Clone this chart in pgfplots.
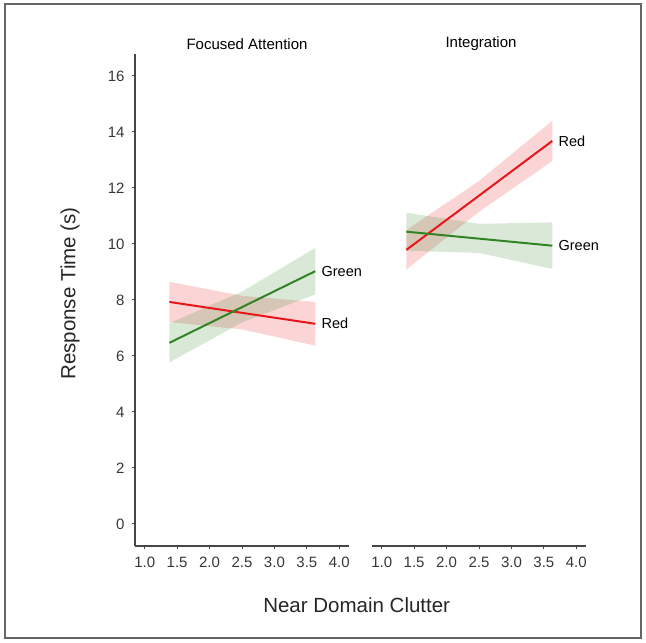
\documentclass[border=0pt]{standalone}
\usepackage{pgfplots}
\pgfplotsset{compat=1.18}
\usepackage{fontspec}
\setmainfont{Liberation Sans}
\definecolor{lred}{RGB}{232,22,26}
\definecolor{lgreen}{RGB}{48,132,36}
\definecolor{axgray}{RGB}{70,70,70}
\definecolor{tickgray}{RGB}{55,55,55}
\pgfplotsset{
  panel/.style={
    scale only axis, width=214pt, height=492.8pt,
    xmin=0.85, xmax=4.15, ymin=-0.8, ymax=16.8,
    xtick={1,1.5,...,4}, 
    xticklabels={1.0,1.5,2.0,2.5,3.0,3.5,4.0},
    axis x line*=bottom,
    axis line style={-, draw=axgray, line width=1.8pt},
    tick align=outside, major tick length=3pt,
    tick style={draw=axgray, line width=1pt},
    ticklabel style={font=\fontsize{15}{18}\selectfont, text=tickgray},
    xticklabel style={yshift=-4pt},
    yticklabel style={xshift=-4pt},
    /pgf/number format/assume math mode=true,
    clip=false,
  },
  band/.style={draw=none, fill opacity=0.18},
}
\begin{document}
\begin{tikzpicture}[x=1pt,y=1pt]
\useasboundingbox (0,0) rectangle (646,643);
\draw[draw=gray!80!black, line width=1.3pt] (5,5) rectangle (641,639);
% Left panel
\begin{axis}[panel, at={(135pt,96.6pt)}, anchor=south west,
  axis y line*=left, ytick={0,2,...,16}]
\addplot[band, fill=lred] coordinates {(1.38,8.65) (2.5,8.15) (3.63,7.93) (3.63,6.37) (2.5,6.95) (1.38,7.21)} -- cycle;
\addplot[band, fill=lgreen] coordinates {(1.38,7.17) (2.5,8.30) (3.63,9.86) (3.63,8.20) (2.5,7.20) (1.38,5.77)} -- cycle;
\addplot[lred, line width=2pt] coordinates {(1.38,7.93) (3.63,7.15)} node[pos=1, anchor=west, xshift=2pt, text=black, font=\fontsize{14.5}{17}\selectfont] {Red};
\addplot[lgreen, line width=2pt] coordinates {(1.38,6.47) (3.63,9.03)} node[pos=1, anchor=west, xshift=2pt, text=black, font=\fontsize{14.5}{17}\selectfont] {Green};
\end{axis}
% Right panel
\begin{axis}[panel, at={(372pt,96.6pt)}, anchor=south west,
  axis y line=none, ytick=\empty]
\addplot[band, fill=lred] coordinates {(1.38,10.50) (2.5,12.25) (3.63,14.40) (3.63,12.96) (2.5,11.15) (1.38,9.09)} -- cycle;
\addplot[band, fill=lgreen] coordinates {(1.38,11.12) (2.5,10.72) (3.63,10.77) (3.63,9.11) (2.5,9.68) (1.38,9.76)} -- cycle;
\addplot[lred, line width=2pt] coordinates {(1.38,9.79) (3.63,13.68)} node[pos=1, anchor=west, xshift=2pt, text=black, font=\fontsize{14.5}{17}\selectfont] {Red};
\addplot[lgreen, line width=2pt] coordinates {(1.38,10.44) (3.63,9.94)} node[pos=1, anchor=west, xshift=2pt, text=black, font=\fontsize{14.5}{17}\selectfont] {Green};
\end{axis}
\node[font=\fontsize{15}{18}\selectfont] at (247,599) {Focused Attention};
\node[font=\fontsize{15}{18}\selectfont] at (481,599) {Integration};
\node[font=\fontsize{20.5}{24}\selectfont, text=black!85] at (356.7,38) {Near Domain Clutter};
\node[font=\fontsize{20.5}{24}\selectfont, text=black!85, rotate=90] at (70,349.5) {Response Time (s)};
\end{tikzpicture}
\end{document}
